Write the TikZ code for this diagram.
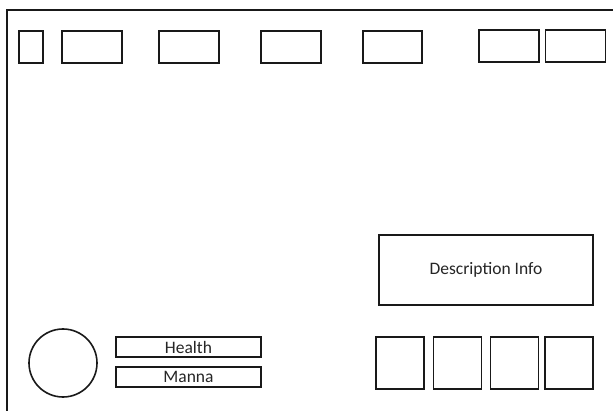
\documentclass[tikz,border=0pt]{standalone}
\usepackage{fontspec}
\setmainfont{Carlito}
\begin{document}
\begin{tikzpicture}[x=1pt,y=-1pt,
  box/.style={draw=black!90, line width=1.6pt, rectangle, inner sep=0pt, outer sep=0pt, font=\fontsize{17.5}{19}\selectfont, text=black!85},
  ring/.style={draw=black!90, line width=1.6pt, circle, inner sep=0pt, outer sep=0pt}]
\useasboundingbox (0,0) rectangle (613,411);
\fill[white] (0,0) rectangle (613,411);
\coordinate (fbl) at (7,415);
\coordinate (ftl) at (7,10);
\coordinate (ftr) at (617,10);
\draw[black!90, line width=1.6pt] (fbl) -- (ftl) -- (ftr);
% top row
\node[box, minimum width=24, minimum height=32] (t1) at (31,47) {};
\node[box, minimum width=60, minimum height=32] (t2) at (92,47) {};
\node[box, minimum width=60, minimum height=32] (t3) at (189,47) {};
\node[box, minimum width=60, minimum height=32] (t4) at (291,47) {};
\node[box, minimum width=59, minimum height=32] (t5) at (392.5,47) {};
\node[box, minimum width=60, minimum height=32] (t6) at (509,46) {};
\node[box, minimum width=60, minimum height=32] (t7) at (575.5,46) {};
% description
\node[box, minimum width=214, minimum height=70] (desc) at (486,270) {Description Info};
% bottom squares
\node[box, minimum width=48, minimum height=52] (s1) at (400,363) {};
\node[box, minimum width=48, minimum height=52] (s2) at (457.5,363) {};
\node[box, minimum width=48, minimum height=52] (s3) at (514.5,363) {};
\node[box, minimum width=48, minimum height=52] (s4) at (569,363) {};
% avatar and bars
\node[ring, minimum size=68] (av) at (63,363) {};
\node[box, minimum width=145, minimum height=20] (hp) at (188.5,347) {Health};
\node[box, minimum width=145, minimum height=20] (mp) at (188.5,377) {Manna};
\end{tikzpicture}
\end{document}
